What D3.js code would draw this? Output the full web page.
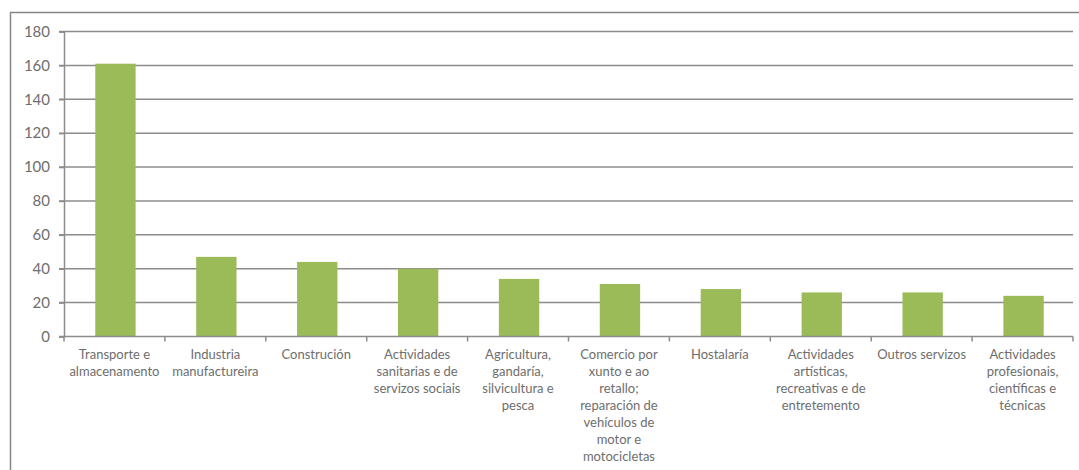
<!DOCTYPE html>
<html><head><meta charset="utf-8">
<script src="https://cdn.jsdelivr.net/npm/d3@7"></script>
<style>body{margin:0;background:#fff}svg{display:block}</style>
</head><body>
<script>
const categories = [
  "Transporte e\nalmacenamento",
  "Industria\nmanufactureira",
  "Construción",
  "Actividades\nsanitarias e de\nservizos sociais",
  "Agricultura,\ngandaría,\nsilvicultura e\npesca",
  "Comercio por\nxunto e ao\nretallo;\nreparación de\nvehículos de\nmotor e\nmotocicletas",
  "Hostalaría",
  "Actividades\nartísticas,\nrecreativas e de\nentretemento",
  "Outros servizos",
  "Actividades\nprofesionais,\ncientíficas e\ntécnicas"
];
const values = [161, 47, 44, 40, 34, 31, 28, 26, 26, 24];
const yTicks = [0, 20, 40, 60, 80, 100, 120, 140, 160, 180];

(function () {
const W = 1079, H = 470;
const svg = d3.select("body").append("svg").attr("width", W).attr("height", H);

svg.append("rect").attr("x", 10.5).attr("y", 12.5).attr("width", 1100).attr("height", 500)
  .attr("fill", "none").attr("stroke", "#868686").attr("stroke-width", 1.5);

const pLeft = 64, pRight = 1073, pTop = 31.5, pBottom = 336.5;
const x = d3.scaleBand().domain(categories).range([pLeft, pRight]).paddingInner(0.6).paddingOuter(0.3);
const xb = d3.scaleBand().domain(categories).range([pLeft, pRight]);
const y = d3.scaleLinear().domain([0, 180]).range([pBottom, pTop]);

// gridlines
svg.append("g").selectAll("line").data(yTicks.filter(d => d > 0)).join("line")
  .attr("x1", pLeft - 5).attr("x2", pRight).attr("y1", d => y(d)).attr("y2", d => y(d))
  .attr("stroke", "#8c8c8c").attr("stroke-width", 1.5);

// bars
svg.append("g").selectAll("rect").data(values).join("rect")
  .attr("x", (d, i) => x(categories[i]) + 1)
  .attr("width", x.bandwidth())
  .attr("y", d => y(d)).attr("height", d => y(0) - y(d))
  .attr("fill", "#9bbb59");

// y axis
const yAxis = d3.axisLeft(y).tickValues(yTicks).tickSize(5).tickPadding(9);
const gy = svg.append("g").attr("transform", `translate(${pLeft},0)`).call(yAxis);
gy.select(".domain").attr("stroke", "#8c8c8c").attr("stroke-width", 1.5);
gy.selectAll(".tick line").attr("stroke", "#8c8c8c").attr("stroke-width", 1.5);
gy.selectAll(".tick text").attr("fill", "#6e6e6e").attr("font-family", "Lato, sans-serif").attr("font-size", 15);

// x axis line and ticks at boundaries
svg.append("line").attr("x1", pLeft - 5).attr("x2", pRight).attr("y1", pBottom).attr("y2", pBottom)
  .attr("stroke", "#8c8c8c").attr("stroke-width", 1.5);
const bounds = categories.map(c => xb(c)).concat([pRight]);
svg.append("g").selectAll("line").data(bounds).join("line")
  .attr("x1", d => d).attr("x2", d => d).attr("y1", pBottom).attr("y2", pBottom + 5)
  .attr("stroke", "#8c8c8c").attr("stroke-width", 1.5);

// x labels
const gl = svg.append("g").attr("font-family", "Lato, sans-serif").attr("font-size", 13)
  .attr("fill", "#6e6e6e").attr("text-anchor", "middle");
categories.forEach((c) => {
  const cx = xb(c) + xb.bandwidth() / 2;
  const t = gl.append("text").attr("x", cx).attr("y", 359);
  c.split("\n").forEach((line, j) => {
    t.append("tspan").attr("x", cx).attr("dy", j === 0 ? 0 : 17).text(line);
  });
});
})();
</script>
</body></html>
